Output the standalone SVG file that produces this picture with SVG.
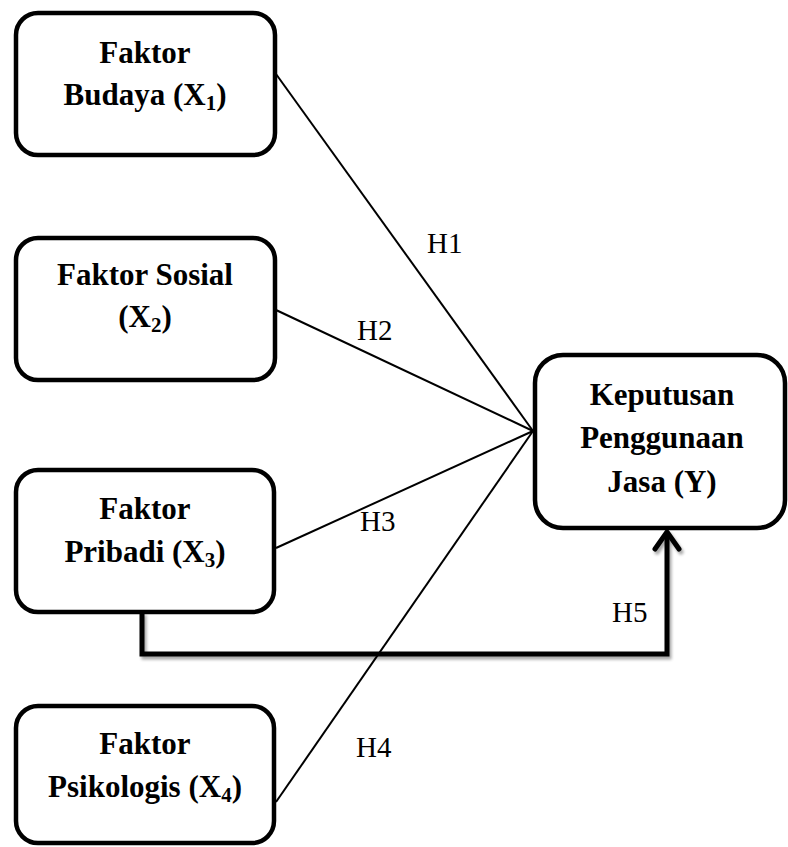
<svg xmlns="http://www.w3.org/2000/svg" width="788" height="847" viewBox="0 0 788 847">
<style>
.box{fill:#fff;stroke:#000;stroke-width:4.5}
.t{font-family:"Liberation Serif","Times New Roman",serif;font-weight:bold;font-size:31px;fill:#000;text-anchor:middle}
.lbl{font-family:"Liberation Serif","Times New Roman",serif;font-size:29px;fill:#000}
.ln{stroke:#000;stroke-width:2;fill:none}
.thick{stroke:#000;stroke-width:5;fill:none}
</style>
<defs>
<filter id="sh" x="-5%" y="-5%" width="110%" height="120%">
<feGaussianBlur in="SourceAlpha" stdDeviation="1.5"/>
<feOffset dx="2" dy="3" result="b"/>
<feComponentTransfer><feFuncA type="linear" slope="0.35"/></feComponentTransfer>
<feMerge><feMergeNode/><feMergeNode in="SourceGraphic"/></feMerge>
</filter>
</defs>
<rect width="788" height="847" fill="#fff"/>
<g id="connectors">
<line class="ln" x1="276" y1="74" x2="533" y2="431"/>
<line class="ln" x1="276" y1="310" x2="533" y2="431"/>
<line class="ln" x1="276" y1="548" x2="533" y2="431"/>
<line class="ln" x1="276" y1="802" x2="533" y2="431"/>
<g filter="url(#sh)">
<polyline class="thick" points="142,612 142,654 667,654 667,532"/>
<polyline class="thick" points="655,549 667,532 679,549" stroke-linecap="round" stroke-linejoin="round"/>
</g>
<text class="lbl" x="427" y="253">H1</text>
<text class="lbl" x="357" y="340">H2</text>
<text class="lbl" x="360" y="531">H3</text>
<text class="lbl" x="356" y="757">H4</text>
<text class="lbl" x="612" y="622">H5</text>
</g>
<g id="x1">
<rect class="box" x="16" y="13" width="259" height="142" rx="22"/>
<text class="t" x="145" y="63">Faktor</text>
<text class="t" x="145" y="105">Budaya (X<tspan font-size="21" dy="5">1</tspan><tspan dy="-5">)</tspan></text>
</g>
<g id="x2">
<rect class="box" x="16" y="238" width="259" height="142" rx="22"/>
<text class="t" x="145" y="285">Faktor Sosial</text>
<text class="t" x="145" y="327">(X<tspan font-size="21" dy="5">2</tspan><tspan dy="-5">)</tspan></text>
</g>
<g id="x3">
<rect class="box" x="16" y="470" width="258" height="142" rx="22"/>
<text class="t" x="145" y="519">Faktor</text>
<text class="t" x="145" y="562">Pribadi (X<tspan font-size="21" dy="5">3</tspan><tspan dy="-5">)</tspan></text>
</g>
<g id="x4">
<rect class="box" x="16" y="706" width="258" height="137" rx="22"/>
<text class="t" x="145" y="754">Faktor</text>
<text class="t" x="145" y="797">Psikologis (X<tspan font-size="21" dy="5">4</tspan><tspan dy="-5">)</tspan></text>
</g>
<g id="y">
<rect class="box" x="535" y="355" width="250" height="173" rx="28"/>
<text class="t" x="662" y="405">Keputusan</text>
<text class="t" x="662" y="448">Penggunaan</text>
<text class="t" x="662" y="492">Jasa (Y)</text>
</g>
</svg>
